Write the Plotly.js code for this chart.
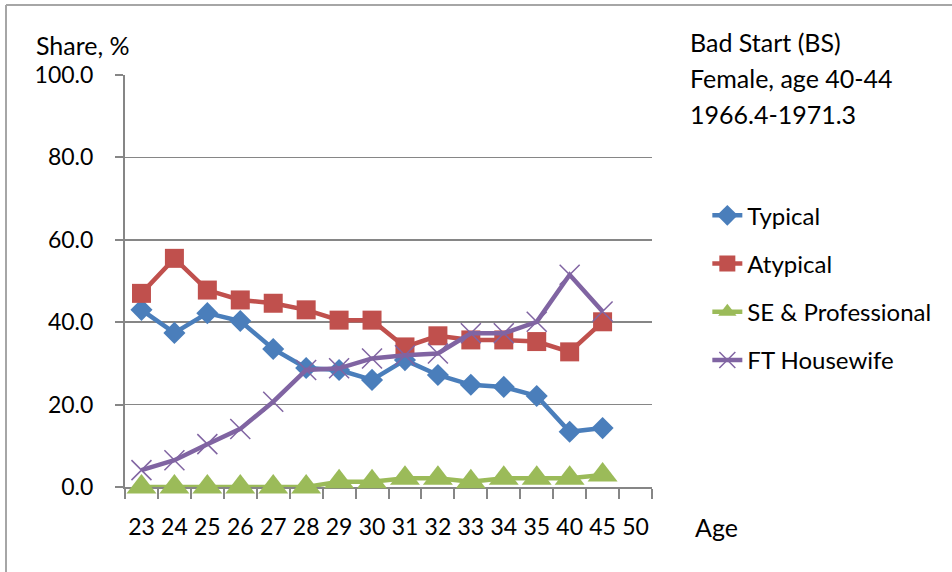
<!DOCTYPE html>
<html>
<head>
<meta charset="utf-8">
<script src="https://cdn.plot.ly/plotly-3.0.1.min.js"></script>
<style>
  body { margin: 0; background: #fff; }
  #chart { width: 952px; height: 572px; }
</style>
</head>
<body>
<div id="chart"></div>
<script>
// age categories (50 has no data, axis still shows it)
var ages = ["23", "24", "25", "26", "27", "28", "29", "30", "31", "32", "33", "34", "35", "40", "45", "50"]

var typical = [43.0, 37.4, 42.2, 40.3, 33.5, 28.9, 28.4, 26.0, 30.8, 27.2, 24.8, 24.3, 22.1, 13.4, 14.3]
var atypical = [47.0, 55.5, 47.8, 45.4, 44.6, 43.0, 40.5, 40.5, 34.0, 36.7, 35.7, 35.7, 35.3, 32.8, 40.1]
var seProf = [0, 0, 0, 0, 0, 0, 1.3, 1.3, 2.1, 2.1, 1.3, 2.1, 2.1, 2.1, 2.9]
var housewife = [4.1, 6.5, 10.4, 14.1, 20.7, 28.4, 28.8, 31.2, 32.0, 32.4, 37.3, 37.3, 40.1, 51.5, 42.6]

var titleLines = ["Bad Start (BS)", "Female, age 40-44", "1966.4-1971.3"]

var font = "Lato, 'Open Sans', sans-serif"

function series(name, y, color, symbol, size, group) {
    var open = symbol.indexOf("open") >= 0
    return {
        type: "scatter",
        mode: "lines+markers",
        name: name,
        legendgroup: group,
        cliponaxis: false,
        x: ages.slice(0, y.length),
        y: y,
        line: { color: color, width: 4.5 },
        marker: {
            color: color,
            symbol: symbol,
            size: size,
            line: { color: color, width: open ? 1.5 : 0 }
        }
    }
}

var data = [
    series("Typical", typical, "#4a7ebb", "diamond", 17, "a"),
    series("Atypical", atypical, "#c0504d", "square", 19, "b"),
    series("SE &amp; Professional", seProf, "#9bbb59", "triangle-up", 26, "c"),
    series("FT Housewife", housewife, "#8064a2", "x-thin-open", 20, "d")
]

var annotations = titleLines.map(function (t, i) {
    return {
        xref: "paper", yref: "paper",
        x: 1.068, y: 1.080 - i * 0.0875,
        xanchor: "left", yanchor: "middle", align: "left",
        showarrow: false,
        text: t,
        font: { family: font, size: 25 }
    }
})
annotations.push({
    xref: "paper", yref: "paper",
    x: -0.172, y: 1.073,
    xanchor: "left", yanchor: "middle",
    showarrow: false,
    text: "Share, %",
    font: { family: font, size: 25 }
})
annotations.push({
    xref: "paper", yref: "paper",
    x: 1.078, y: -0.097,
    xanchor: "left", yanchor: "middle",
    showarrow: false,
    text: "Age",
    font: { family: font, size: 25 }
})

var layout = {
    width: 952,
    height: 572,
    margin: { l: 125, r: 300, t: 75, b: 85 },
    paper_bgcolor: "#fff",
    plot_bgcolor: "#fff",
    font: { family: font, size: 23, color: "#000" },
    showlegend: true,
    legend: {
        x: 1.105,
        y: 0.713,
        xanchor: "left",
        yanchor: "top",
        tracegroupgap: 14,
        font: { family: font, size: 24 },
        bgcolor: "rgba(0,0,0,0)"
    },
    xaxis: {
        type: "category",
        categoryorder: "array",
        categoryarray: ages,
        range: [-0.5, 15.5],
        showgrid: false,
        showline: true,
        linecolor: "#868686",
        linewidth: 2,
        layer: "below traces",
        ticks: "outside",
        tickson: "boundaries",
        ticklen: 10,
        tickwidth: 2,
        tickcolor: "#868686",
        tickangle: 0,
        ticklabelstandoff: 18,
        tickfont: { family: font, size: 23 },
        zeroline: false,
        fixedrange: true
    },
    yaxis: {
        range: [0, 100],
        dtick: 20,
        tick0: 0,
        tickformat: ".1f",
        showgrid: true,
        gridcolor: "#868686",
        gridwidth: 1.5,
        showline: true,
        linecolor: "#868686",
        linewidth: 2,
        layer: "below traces",
        ticks: "outside",
        ticklen: 8,
        tickwidth: 2,
        tickcolor: "#868686",
        ticklabelstandoff: 17,
        tickfont: { family: font, size: 23 },
        zeroline: false,
        fixedrange: true
    },
    annotations: annotations,
    shapes: [
        {
            type: "line", xref: "paper", yref: "paper",
            x0: -0.2258, x1: -0.2258, y0: -0.21, y1: 1.17,
            line: { color: "#a6a6a6", width: 2 }
        },
        {
            type: "line", xref: "paper", yref: "paper",
            x0: -0.2258, x1: 1.57, y0: 1.17, y1: 1.17,
            line: { color: "#a6a6a6", width: 2 }
        }
    ]
}

Plotly.newPlot("chart", data, layout, { displayModeBar: false, staticPlot: true })
</script>
</body>
</html>
